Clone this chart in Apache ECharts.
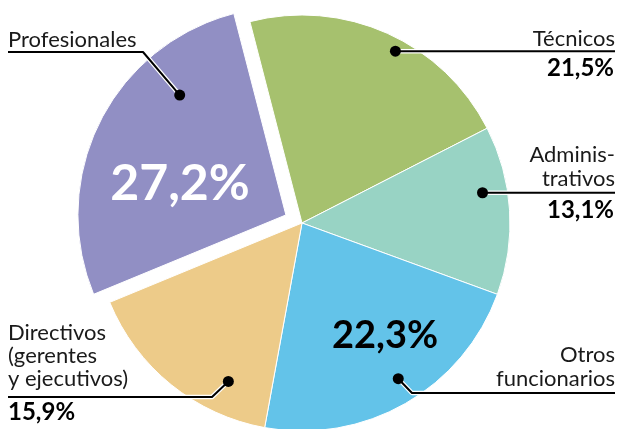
<!DOCTYPE html>
<html>
<head>
<meta charset="utf-8">
<script src="https://cdn.jsdelivr.net/npm/echarts@6/dist/echarts.min.js"></script>
<style>
  html, body { margin: 0; padding: 0; background: #fff; }
  #chart { width: 619px; height: 429px; }
</style>
</head>
<body>
<div id="chart"></div>
<script>
// Occupational groups and their shares (%)
const categories = ['Técnicos', 'Administrativos', 'Otros funcionarios', 'Directivos', 'Profesionales'];
const values = [21.5, 13.1, 22.3, 15.9, 27.2];
// Text lines shown for each group's callout
const labelLines = [
  ['Técnicos'],
  ['Adminis-', 'trativos'],
  ['Otros', 'funcionarios'],
  ['Directivos', '(gerentes', 'y ejecutivos)'],
  ['Profesionales']
];
const sliceColors = ['#a6c16e', '#98d3c4', '#63c3e9', '#edcb89', '#918fc4'];

const fmt = v => v.toFixed(1).replace('.', ',') + '%';

const CX = 302, CY = 223, R = 208, START = 104.5, OFFSET = 18;
const explodedIndex = 4;
const FONT = 'Lato, "Open Sans", sans-serif';

const chart = echarts.init(document.getElementById('chart'), null, { renderer: 'canvas' });

// Slice angular ranges derived from the values (clockwise from START)
const total = values.reduce((a, b) => a + b, 0);
const ranges = [];
let acc = 0;
values.forEach(v => {
  const a0 = START - acc / total * 360;
  acc += v;
  const a1 = START - acc / total * 360;
  ranges.push([a0, a1]);
});

// Point inside a slice: t = fraction along the arc, rf = fraction of radius
function anchor(i, t, rf) {
  const [a0, a1] = ranges[i];
  const a = (a0 + t * (a1 - a0)) * Math.PI / 180;
  let cx = CX, cy = CY;
  if (i === explodedIndex) {
    const m = ((a0 + a1) / 2) * Math.PI / 180;
    cx += OFFSET * Math.cos(m);
    cy -= OFFSET * Math.sin(m);
  }
  return [cx + rf * R * Math.cos(a), cy - rf * R * Math.sin(a)];
}

const dotSpec = [
  { t: 0.556, rf: 0.94 },
  { t: 0.373, rf: 0.88 },
  { t: 0.476, rf: 0.88 },
  { t: 0.255, rf: 0.84 },
  { t: 0.724, rf: 0.77 }
];
const dots = dotSpec.map((s, i) => anchor(i, s.t, s.rf));

// Leader line paths (dot -> elbow -> end of underline)
const paths = [
  [dots[0], [615, dots[0][1]]],
  [dots[1], [615, dots[1][1]]],
  [dots[2], [412, 393], [615, 393]],
  [dots[3], [212, 397], [8, 397]],
  [dots[4], [143, 52], [8, 52]]
];

const graphics = [];
paths.forEach((p, i) => {
  graphics.push({
    type: 'polyline', silent: true, z: 10,
    shape: { points: p },
    style: { stroke: '#fff', lineWidth: 4.5, fill: null, lineJoin: 'round' }
  });
  graphics.push({
    type: 'polyline', silent: true, z: 11,
    shape: { points: p },
    style: { stroke: '#000', lineWidth: 2, fill: null, lineJoin: 'round' }
  });
  graphics.push({
    type: 'circle', silent: true, z: 12,
    shape: { cx: dots[i][0], cy: dots[i][1], r: 5.5 },
    style: { fill: '#000' }
  });
});

function text(str, x, y, opts) {
  graphics.push({
    type: 'text', silent: true, z: 13,
    style: Object.assign({
      text: str, x: x, y: y,
      font: '22px ' + FONT, fill: '#1a1a1a',
      align: 'left', verticalAlign: 'middle'
    }, opts || {})
  });
}
const boldPct = 'bold 24px ' + FONT;

// Técnicos
text(labelLines[0][0], 615, 39, { align: 'right' });
text(fmt(values[0]), 614, 68, { align: 'right', font: boldPct, fill: '#000' });
// Administrativos
text(labelLines[1][0], 615, 155, { align: 'right' });
text(labelLines[1][1], 615, 179, { align: 'right' });
text(fmt(values[1]), 614, 210, { align: 'right', font: boldPct, fill: '#000' });
// Otros funcionarios
text(labelLines[2][0], 615, 355, { align: 'right' });
text(labelLines[2][1], 615, 379, { align: 'right' });
// Directivos
text(labelLines[3][0], 8, 333);
text(labelLines[3][1], 8, 356);
text(labelLines[3][2], 8, 379);
text(fmt(values[3]), 8, 412, { font: boldPct, fill: '#000' });
// Profesionales
text(labelLines[4][0], 8, 40);

// Large in-slice percentages
text(fmt(values[4]), 180, 184, { align: 'center', font: 'bold 50px ' + FONT, fill: '#fff' });
text(fmt(values[2]), 385, 336, { align: 'center', font: 'bold 38px ' + FONT, fill: '#000' });

chart.setOption({
  animation: false,
  series: [{
    type: 'pie',
    center: [CX, CY],
    radius: R,
    startAngle: START,
    clockwise: true,
    selectedMode: 'single',
    selectedOffset: OFFSET,
    label: { show: false },
    labelLine: { show: false },
    emphasis: { disabled: true },
    itemStyle: { borderColor: '#fff', borderWidth: 1 },
    data: categories.map((c, i) => ({
      name: c,
      value: values[i],
      selected: i === explodedIndex,
      itemStyle: { color: sliceColors[i] }
    }))
  }],
  graphic: graphics
});
</script>
</body>
</html>
